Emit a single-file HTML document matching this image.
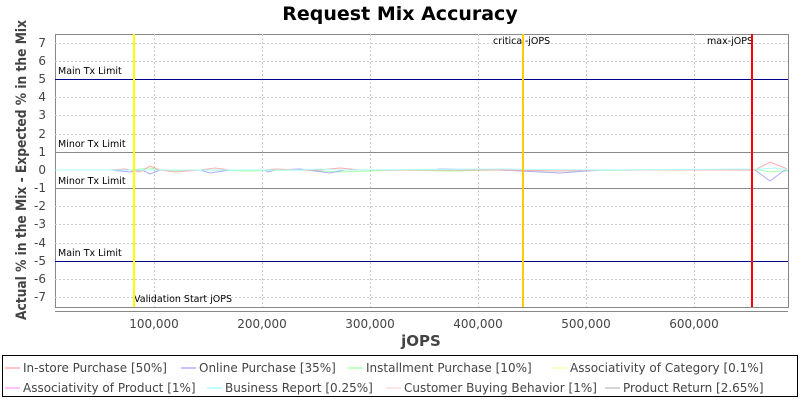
<!DOCTYPE html>
<html><head><style>
body{margin:0;background:#fff;font-family:"DejaVu Sans","Liberation Sans",sans-serif}
</style></head><body>
<svg width="800" height="400" xmlns="http://www.w3.org/2000/svg" font-family="DejaVu Sans, Liberation Sans, sans-serif">
<rect width="800" height="400" fill="#fff"/>
<text x="400" y="20" text-anchor="middle" font-size="19" font-weight="bold">Request Mix Accuracy</text>
<rect x="55.5" y="34.5" width="733" height="273" fill="#fff" stroke="#888"/>
<g stroke="#ccc" stroke-dasharray="2,2" stroke-width="1">
<line x1="55" x2="788" y1="43.5" y2="43.5"/><line x1="55" x2="788" y1="61.5" y2="61.5"/><line x1="55" x2="788" y1="97.5" y2="97.5"/><line x1="55" x2="788" y1="115.5" y2="115.5"/><line x1="55" x2="788" y1="134.5" y2="134.5"/><line x1="55" x2="788" y1="206.5" y2="206.5"/><line x1="55" x2="788" y1="224.5" y2="224.5"/><line x1="55" x2="788" y1="243.5" y2="243.5"/><line x1="55" x2="788" y1="279.5" y2="279.5"/><line x1="55" x2="788" y1="297.5" y2="297.5"/>
<line y1="34" y2="307" x1="154.5" x2="154.5"/><line y1="34" y2="307" x1="262.5" x2="262.5"/><line y1="34" y2="307" x1="370.5" x2="370.5"/><line y1="34" y2="307" x1="478.5" x2="478.5"/><line y1="34" y2="307" x1="586.5" x2="586.5"/><line y1="34" y2="307" x1="694.5" x2="694.5"/>
</g>
<line x1="55" x2="788" y1="79.5" y2="79.5" stroke="#00008b"/>
<line x1="55" x2="788" y1="261.5" y2="261.5" stroke="#00008b"/>
<line x1="55" x2="788" y1="152.5" y2="152.5" stroke="#888"/>
<line x1="55" x2="788" y1="188.5" y2="188.5" stroke="#888"/>
<g font-size="9.5" fill="#000">
<text x="58" y="74">Main Tx Limit</text><text x="58" y="147">Minor Tx Limit</text><text x="58" y="184">Minor Tx Limit</text><text x="58" y="256">Main Tx Limit</text>
<text x="134" y="302">Validation Start jOPS</text><text x="493" y="44">critical-jOPS</text><text x="707" y="44">max-jOPS</text>
</g>
<g fill="none" stroke-width="1" opacity="0.7">
<polyline stroke="#8f8" points="55,170 130,170 150,168 170,171 200,170 250,171 300,170 340,172 400,170 450,171 500,170 560,171 650,170 760,170 770,172 780,171 788,171"/>
<polyline stroke="#88f" points="55,170 110,170 130,172 142,170 150,174 160,170 200,170 210,173 230,170 265,170 268,172 275,170 300,169 330,173 345,170 400,170 430,170 440,169 500,170 560,173 600,170 650,170 755,170 770,181 785,170 788,170"/>
<polyline stroke="#f88" points="55,170 110,170 125,169 140,172 150,166 160,170 175,172 200,170 215,168 230,170 265,170 275,169 300,170 320,170 340,168 360,170 400,170 450,170 500,170 560,171 600,170 755,170 770,162 785,168 788,170"/>
<polyline stroke="#8ff" points="55,170 300,170 320,169 340,170 500,169 600,170 760,169 775,168 788,170"/>
</g>
<line x1="134" x2="134" y1="34" y2="307" stroke="#ff0" stroke-width="2"/>
<line x1="523" x2="523" y1="34" y2="307" stroke="#fc0" stroke-width="2"/>
<line x1="752" x2="752" y1="34" y2="307" stroke="#f00" stroke-width="2"/>
<line x1="55" x2="788" y1="311.5" y2="311.5" stroke="#888"/>
<g font-size="12" fill="#444" text-anchor="end">
<text x="46" y="47">7</text><text x="46" y="65">6</text><text x="46" y="83">5</text><text x="46" y="101">4</text><text x="46" y="119">3</text><text x="46" y="138">2</text><text x="46" y="156">1</text><text x="46" y="174">0</text><text x="46" y="192">-1</text><text x="46" y="210">-2</text><text x="46" y="228">-3</text><text x="46" y="247">-4</text><text x="46" y="265">-5</text><text x="46" y="283">-6</text><text x="46" y="301">-7</text>
</g>
<g font-size="12" fill="#444" text-anchor="middle">
<text x="154" y="328">100,000</text><text x="262" y="328">200,000</text><text x="370" y="328">300,000</text><text x="478" y="328">400,000</text><text x="586" y="328">500,000</text><text x="694" y="328">600,000</text>
</g>
<text x="421" y="346" text-anchor="middle" font-size="15" font-weight="bold" fill="#444">jOPS</text>
<text transform="translate(26,170) rotate(-90)" text-anchor="middle" font-size="14" font-weight="bold" fill="#444" textLength="300" lengthAdjust="spacingAndGlyphs">Actual % in the Mix - Expected % in the Mix</text>
<rect x="2.5" y="355.5" width="795" height="41" fill="#fff" stroke="#000"/>
<g font-size="12" fill="#444">
<line x1="5" x2="20" y1="368" y2="368" stroke="#f88"/><text x="23" y="372">In-store Purchase [50%]</text>
<line x1="181" x2="196" y1="368" y2="368" stroke="#88f"/><text x="199" y="372">Online Purchase [35%]</text>
<line x1="348" x2="363" y1="368" y2="368" stroke="#8f8"/><text x="366" y="372">Installment Purchase [10%]</text>
<line x1="552" x2="567" y1="368" y2="368" stroke="#ff8"/><text x="570" y="372">Associativity of Category [0.1%]</text>
<line x1="5" x2="20" y1="388" y2="388" stroke="#f8f"/><text x="23" y="392">Associativity of Product [1%]</text>
<line x1="207" x2="222" y1="388" y2="388" stroke="#8ff"/><text x="225" y="392">Business Report [0.25%]</text>
<line x1="386" x2="401" y1="388" y2="388" stroke="#fcc"/><text x="404" y="392">Customer Buying Behavior [1%]</text>
<line x1="605" x2="620" y1="388" y2="388" stroke="#aaa"/><text x="623" y="392">Product Return [2.65%]</text>
</g>
</svg>
</body></html>
